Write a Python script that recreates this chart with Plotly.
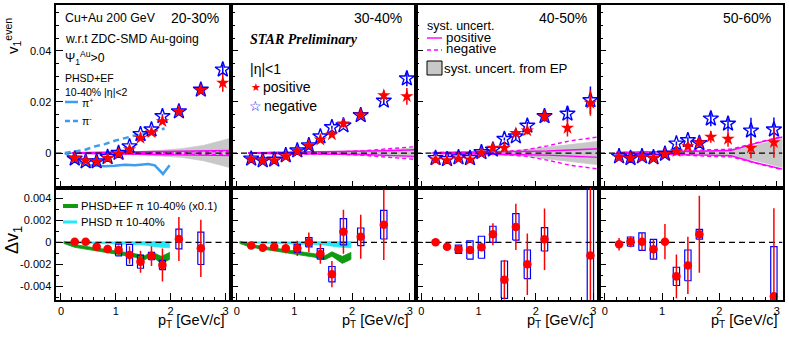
import plotly.graph_objects as go

pt = [0.25, 0.45, 0.65, 0.85, 1.05, 1.25, 1.45, 1.65, 1.85, 2.15, 2.55, 2.95]
centralities = ['20-30%', '30-40%', '40-50%', '50-60%']

# v1 even, positive (red) / negative (blue) particles, with stat. errors
v1_pos_2030 = [-0.002, -0.003, -0.0033, -0.002, -0.0003, 0.0014, 0.0059, 0.0081, 0.0124, 0.0163, 0.0246, 0.0275]
v1_neg_2030 = [-0.0022, -0.0033, -0.0033, -0.0016, 0.0, 0.0026, 0.0074, 0.0092, 0.0144, 0.0163, 0.0248, 0.0327]
err_pos_2030 = [0.0003, 0.0003, 0.0003, 0.0003, 0.0003, 0.0004, 0.0005, 0.0006, 0.0008, 0.001, 0.0015, 0.0035]
err_neg_2030 = [0.0003, 0.0003, 0.0003, 0.0003, 0.0003, 0.0004, 0.0005, 0.0006, 0.0008, 0.001, 0.0015, 0.002]

v1_pos_3040 = [-0.0024, -0.003, -0.0029, -0.0013, 0.0007, 0.003, 0.0052, 0.0072, 0.0115, 0.015, 0.0226, 0.0222]
v1_neg_3040 = [-0.0022, -0.0029, -0.0026, -0.0009, 0.001, 0.003, 0.0065, 0.0101, 0.0108, 0.0148, 0.0205, 0.0292]
err_pos_3040 = [0.0003, 0.0003, 0.0003, 0.0003, 0.0003, 0.0004, 0.0005, 0.0006, 0.0008, 0.001, 0.002, 0.0033]
err_neg_3040 = [0.0003, 0.0003, 0.0003, 0.0003, 0.0003, 0.0004, 0.0005, 0.0006, 0.0008, 0.001, 0.0015, 0.003]

v1_pos_4050 = [-0.0026, -0.0029, -0.0022, -0.0026, 0.0, 0.002, 0.002, 0.0078, 0.0088, 0.0144, 0.0098, 0.0196]
v1_neg_4050 = [-0.002, -0.0024, -0.0017, -0.002, 0.0003, 0.0013, 0.0055, 0.0065, 0.0107, 0.0144, 0.0154, 0.0207]
err_pos_4050 = [0.0003, 0.0003, 0.0003, 0.0003, 0.0004, 0.0005, 0.0006, 0.001, 0.0015, 0.002, 0.0033, 0.005]
err_neg_4050 = [0.0003, 0.0003, 0.0003, 0.0003, 0.0004, 0.0005, 0.0006, 0.001, 0.0015, 0.002, 0.003, 0.0054]

v1_pos_5060 = [-0.0016, -0.002, -0.0016, -0.002, -0.0004, 0.0007, 0.0026, 0.0042, 0.0063, 0.0055, 0.002, 0.0042]
v1_neg_5060 = [-0.0013, -0.002, -0.0013, -0.0017, -0.0003, 0.0037, 0.005, 0.0039, 0.0135, 0.0115, 0.0088, 0.0092]
err_pos_5060 = [0.0003, 0.0003, 0.0003, 0.0004, 0.0005, 0.0008, 0.0012, 0.002, 0.0023, 0.003, 0.004, 0.006]
err_neg_5060 = [0.0003, 0.0003, 0.0003, 0.0004, 0.0005, 0.0008, 0.0012, 0.0015, 0.003, 0.003, 0.005, 0.0047]

# systematic envelopes around zero (half widths)
env_pt = [0.2, 0.6, 1.0, 1.4, 1.8, 2.2, 2.6, 3.1]
ep_2030 = [0.0002, 0.0003, 0.0004, 0.0006, 0.001, 0.0017, 0.003, 0.0058]
ep_3040 = [0.0002, 0.0002, 0.0003, 0.0004, 0.0006, 0.0009, 0.0013, 0.002]
ep_4050 = [0.0003, 0.0004, 0.0005, 0.0008, 0.0013, 0.0022, 0.0033, 0.0046]
ep_5060 = [0.0003, 0.0004, 0.0005, 0.0007, 0.001, 0.0015, 0.0028, 0.0057]
sys_pos_2030 = [0.0001, 0.0002, 0.0003, 0.0004, 0.0005, 0.0006, 0.0008, 0.001]
sys_neg_2030 = [0.0001, 0.0001, 0.0002, 0.0003, 0.0003, 0.0004, 0.0005, 0.0006]
sys_pos_3040 = [0.0001, 0.0002, 0.0002, 0.0003, 0.0004, 0.0006, 0.0009, 0.0013]
sys_neg_3040 = [0.0001, 0.0002, 0.0003, 0.0004, 0.0005, 0.0009, 0.0015, 0.0025]
sys_pos_4050 = [0.0001, 0.0002, 0.0003, 0.0004, 0.0006, 0.0008, 0.0012, 0.0017]
sys_neg_4050 = [0.0002, 0.0002, 0.0003, 0.0005, 0.0012, 0.0028, 0.0048, 0.0063]
sys_pos_5060 = [0.0002, 0.0003, 0.0004, 0.0006, 0.0008, 0.001, 0.0036, 0.0063]
sys_neg_5060 = [0.0002, 0.0003, 0.0005, 0.0008, 0.0013, 0.0015, 0.0038, 0.0066]

# PHSD+EF pions, 10-40 %, |eta|<2
pip_pt = [0.07, 0.25, 0.44, 0.62, 0.8, 0.98, 1.16, 1.35, 1.47, 1.59, 1.71, 1.86, 1.98]
pip_v1 = [0.0, -0.0026, -0.0046, -0.005, -0.0052, -0.005, -0.0046, -0.0048, -0.0046, -0.0043, -0.0048, -0.0082, -0.0048]
pim_pt = [0.07, 0.25, 0.44, 0.62, 0.8, 0.98, 1.16, 1.35, 1.53, 1.71, 1.89]
pim_v1 = [0.0, 0.0007, 0.0013, 0.0026, 0.0035, 0.0048, 0.0059, 0.0069, 0.0078, 0.0088, 0.0096]

# delta v1 (positive - negative)
dpt_2030 = [0.25, 0.45, 0.65, 0.85, 1.05, 1.25, 1.45, 1.65, 1.85, 2.15, 2.55]
dv1_2030 = [0.00005, 0.00005, -0.0004, -0.0006, -0.0007, -0.00115, -0.00176, -0.00125, -0.00206, 0.0003, -0.00055]
dstat_2030 = [0.0001, 0.0001, 0.00015, 0.00015, 0.0004, 0.0008, 0.001, 0.0009, 0.0015, 0.002, 0.0026]
dsys_2030 = [0.0001, 0.0001, 0.0001, 0.0001, 0.00053, 0.00095, 0.0006, 0.00033, 0.00042, 0.0009, 0.00147]

dpt_3040 = [0.25, 0.45, 0.65, 0.85, 1.05, 1.25, 1.45, 1.65, 1.85, 2.15, 2.55]
dv1_3040 = [-0.0003, -0.0005, -0.0004, -0.00055, -0.00055, 0.0, -0.00106, -0.0029, 0.00096, 0.0005, 0.0016]
dstat_3040 = [0.0001, 0.0001, 0.0002, 0.00045, 0.0007, 0.0009, 0.0009, 0.0012, 0.002, 0.002, 0.0032]
dsys_3040 = [0.0001, 0.0001, 0.0001, 0.0001, 0.00036, 0.00042, 0.00048, 0.0007, 0.0012, 0.0008, 0.0013]

dpt_4050 = [0.25, 0.45, 0.65, 0.85, 1.05, 1.25, 1.45, 1.65, 1.85, 2.15, 2.95]
dv1_4050 = [0.0, -0.0004, -0.00064, -0.0007, -0.00045, 0.00073, -0.0034, 0.0014, -0.002, 0.00027, -0.0012]
dstat_4050 = [0.0001, 0.0002, 0.0003, 0.0003, 0.0003, 0.001, 0.0018, 0.0021, 0.0028, 0.0028, 0.008]
dsys_4050 = [0.0001, 0.0001, 0.00038, 0.00083, 0.001, 0.00073, 0.0017, 0.0012, 0.0013, 0.00106, 0.007]

dpt_5060 = [0.25, 0.45, 0.65, 0.85, 1.05, 1.25, 1.45, 1.65, 2.95]
dv1_5060 = [-0.00018, 0.00006, 0.00006, -0.00064, 0.00006, -0.0031, -0.0021, 0.00073, -0.0049]
dstat_5060 = [0.00056, 0.0005, 0.0008, 0.0009, 0.0016, 0.002, 0.0026, 0.0035, 0.008]
dsys_5060 = [0.0001, 0.00042, 0.0008, 0.0009, 0.0001, 0.00083, 0.0014, 0.00045, 0.0045]

# PHSD models for delta v1, pions 10-40 %
model_pt = [0.05, 0.25, 0.5, 0.8, 1.1, 1.35, 1.53, 1.65, 1.83, 1.98]
ef_dv1 = [0.0, -0.00033, -0.00055, -0.00076, -0.001, -0.0012, -0.0014, -0.00106, -0.0016, -0.00124]
ef_hw = [0.0001, 0.00013, 0.00014, 0.00014, 0.00015, 0.00016, 0.00018, 0.0002, 0.00032, 0.00032]
phsd_dv1 = [0.0, 0.0, -0.00003, -0.00005, -0.00005, -0.00008, -0.0001, -0.00015, -0.0002, -0.0002]
phsd_hw = [0.00003, 0.00005, 0.00006, 0.00008, 0.0001, 0.00012, 0.00015, 0.0002, 0.00026, 0.00028]

pt_ticks = [0, 1, 2, 3]
v1_ticks = [0, 0.02, 0.04]
v1_ticktext = ['0', '0.02', '0.04']
dv1_ticks = [-0.004, -0.002, 0, 0.002, 0.004]
dv1_ticktext = ['-0.004', '-0.002', '0', '0.002', '0.004']

v1_pos = [v1_pos_2030, v1_pos_3040, v1_pos_4050, v1_pos_5060]
v1_neg = [v1_neg_2030, v1_neg_3040, v1_neg_4050, v1_neg_5060]
err_pos = [err_pos_2030, err_pos_3040, err_pos_4050, err_pos_5060]
err_neg = [err_neg_2030, err_neg_3040, err_neg_4050, err_neg_5060]
ep_band = [ep_2030, ep_3040, ep_4050, ep_5060]
sys_pos = [sys_pos_2030, sys_pos_3040, sys_pos_4050, sys_pos_5060]
sys_neg = [sys_neg_2030, sys_neg_3040, sys_neg_4050, sys_neg_5060]
dpt = [dpt_2030, dpt_3040, dpt_4050, dpt_5060]
dv1 = [dv1_2030, dv1_3040, dv1_4050, dv1_5060]
dstat = [dstat_2030, dstat_3040, dstat_4050, dstat_5060]
dsys = [dsys_2030, dsys_3040, dsys_4050, dsys_5060]

# ---- layout constants ----
W, H = 789, 344
FONT = 'Liberation Sans, Arial, sans-serif'
X_RANGE = [-0.1, 3.1]
V1_RANGE = [-0.0137, 0.058]
DV1_RANGE = [-0.00525, 0.00494]
X_EDGES = [55.5, 231, 415.5, 599, 782.5]
TOP_PX = (5, 188)
BOT_PX = (188, 300)
BOX_HW = 0.055

RED, BLUE, MAGENTA = '#ff0000', '#0000ff', '#ff00ff'
GREEN, CYAN, GRAY, PIBLUE = '#119911', '#22e8f8', '#c8c8c8', '#3d9df0'


def px(x):
    return x / W


def py(y):
    return 1 - y / H


def ax(n):
    s = '' if n == 1 else str(n)
    return dict(xaxis='x' + s, yaxis='y' + s)


def neg(a):
    return [-v for v in a]


def band(x, lo, hi, color, n):
    return go.Scatter(x=x + x[::-1], y=hi + lo[::-1], fill='toself', fillcolor=color,
                      mode='lines', line=dict(width=0.8, color=color), hoverinfo='skip', **ax(n))


def zero_line(n):
    return go.Scatter(x=X_RANGE, y=[0, 0], mode='lines',
                      line=dict(color='black', width=1.3, dash='6px,4px'), hoverinfo='skip', **ax(n))


fig = go.Figure()

frame = dict(showline=True, linecolor='black', linewidth=2, mirror=True, ticks='inside',
             tickcolor='black', tickwidth=1, showgrid=False, zeroline=False,
             tickfont=dict(family=FONT, size=11, color='black'))

layout = {}
for i in range(4):
    for row, (ytop, ybot) in enumerate([TOP_PX, BOT_PX]):
        n = i + 1 + 4 * row
        s = '' if n == 1 else str(n)
        layout['xaxis' + s] = dict(
            domain=[px(X_EDGES[i]), px(X_EDGES[i + 1])], range=X_RANGE, anchor='y' + s,
            tickmode='array', tickvals=pt_ticks, ticktext=[str(t) for t in pt_ticks],
            ticklen=7, showticklabels=(row == 1),
            minor=dict(ticks='inside', ticklen=3.5, tickcolor='black', tickwidth=1, dtick=0.2, tick0=0),
            **frame)
        if row == 0:
            yt = dict(range=V1_RANGE, tickvals=v1_ticks, ticktext=v1_ticktext,
                      minor=dict(ticks='inside', ticklen=3.5, tickcolor='black', tickwidth=1, dtick=0.005, tick0=0))
        else:
            yt = dict(range=DV1_RANGE, tickvals=dv1_ticks, ticktext=dv1_ticktext,
                      minor=dict(ticks='inside', ticklen=3.5, tickcolor='black', tickwidth=1, dtick=0.001, tick0=0))
        layout['yaxis' + s] = dict(domain=[py(ybot), py(ytop)], anchor='x' + s, tickmode='array',
                                   ticklen=7, showticklabels=(i == 0), **yt, **frame)

# ---- top row: v1 even ----
for i in range(4):
    n = i + 1
    hw = ep_band[i]
    fig.add_trace(band(env_pt, neg(hw), hw, GRAY, n))
    for sys, dash in [(sys_pos[i], 'solid'), (sys_neg[i], '4px,3px')]:
        fig.add_trace(go.Scatter(x=env_pt + [None] + env_pt, y=sys + [None] + neg(sys), mode='lines',
                                 line=dict(color=MAGENTA, width=1.4, dash=dash), hoverinfo='skip', **ax(n)))
    fig.add_trace(zero_line(n))
    if i == 0:
        fig.add_trace(go.Scatter(x=pip_pt, y=pip_v1, mode='lines', line=dict(color=PIBLUE, width=2.5), **ax(n)))
        fig.add_trace(go.Scatter(x=pim_pt, y=pim_v1, mode='lines',
                                 line=dict(color=PIBLUE, width=2.5, dash='6px,4px'), **ax(n)))
    fig.add_trace(go.Scatter(
        x=pt, y=v1_neg[i], mode='markers',
        marker=dict(symbol='star-open', size=11.5, color=BLUE, line=dict(width=1.4, color=BLUE)),
        error_y=dict(type='data', array=err_neg[i], color=BLUE, thickness=1.5, width=0), **ax(n)))
    fig.add_trace(go.Scatter(
        x=pt, y=v1_pos[i], mode='markers',
        marker=dict(symbol='star', size=10, color=RED, line=dict(width=0)),
        error_y=dict(type='data', array=err_pos[i], color=RED, thickness=1.5, width=0), **ax(n)))

# ---- bottom row: delta v1 ----
for i in range(4):
    n = i + 5
    if i < 2:
        fig.add_trace(band(model_pt, [c - h for c, h in zip(phsd_dv1, phsd_hw)],
                           [c + h for c, h in zip(phsd_dv1, phsd_hw)], CYAN, n))
        fig.add_trace(band(model_pt, [c - h for c, h in zip(ef_dv1, ef_hw)],
                           [c + h for c, h in zip(ef_dv1, ef_hw)], GREEN, n))
    fig.add_trace(zero_line(n))
    bx, by = [], []
    for x, y, s in zip(dpt[i], dv1[i], dsys[i]):
        bx += [x - BOX_HW, x + BOX_HW, x + BOX_HW, x - BOX_HW, x - BOX_HW, None]
        by += [y - s, y - s, y + s, y + s, y - s, None]
    fig.add_trace(go.Scatter(x=bx, y=by, mode='lines', line=dict(color=BLUE, width=1.2), hoverinfo='skip', **ax(n)))
    fig.add_trace(go.Scatter(
        x=dpt[i], y=dv1[i], mode='markers', marker=dict(symbol='circle', size=8.5, color=RED),
        error_y=dict(type='data', array=dstat[i], color=RED, thickness=1.5, width=0), **ax(n)))


def ann(text, x, y, size, xanchor='left', color='black', family=FONT, **kw):
    return dict(text=text, x=px(x), y=py(y), xref='paper', yref='paper', showarrow=False,
                xanchor=xanchor, yanchor='middle', font=dict(family=family, size=size, color=color), **kw)


annotations = [
    ann('Cu+Au 200 GeV', 63, 18, 12.3),
    ann('w.r.t ZDC-SMD Au-going', 63, 39, 12.2),
    ann('Ψ<sub>1</sub><sup>Au</sup>&gt;0', 63, 58, 12.3),
    ann('PHSD+EF', 63, 78, 10.5),
    ann('10-40% |η|&lt;2', 63, 92, 10.5),
    ann('π<sup>+</sup>', 80, 102, 10.5),
    ann('π<sup>-</sup>', 80, 121, 10.5),
    ann('v<sub>1</sub><sup>even</sup>', 13, 36, 15, xanchor='center', textangle=-90),
    ann('Δv<sub>1</sub>', 13, 240, 18, xanchor='center', textangle=-90),
    ann('<b><i>STAR Preliminary</i></b>', 248, 40, 14, family='Liberation Serif, Times New Roman, serif'),
    ann('|η|&lt;1', 248, 69, 14),
    ann('★', 256, 87, 11, xanchor='center', color=RED, family='DejaVu Sans'),
    ann('positive', 261, 87, 14),
    ann('☆', 255, 106, 14, xanchor='center', color=BLUE, family='DejaVu Sans'),
    ann('negative', 262, 106, 14),
    ann('syst. uncert.', 425, 26, 12.5),
    ann('positive', 444, 37.5, 13.3),
    ann('negative', 444, 48.5, 13.3),
    ann('syst. uncert. from EP', 442, 68, 13.3),
    ann('PHSD+EF π 10-40% (x0.1)', 79, 206, 11.2),
    ann('PHSD π 10-40%', 79, 222, 11.2),
]
for cent, xr in zip(centralities, [221, 404, 589, 773]):
    annotations.append(ann(cent, xr, 18, 14, xanchor='right'))
for xr in [227, 411, 596, 780]:
    annotations.append(ann('p<sub>T</sub> [GeV/c]', xr, 321, 14.5, xanchor='right'))


def seg(x0, x1, y, color, width, dash='solid'):
    return dict(type='line', xref='paper', yref='paper', x0=px(x0), x1=px(x1), y0=py(y), y1=py(y),
                line=dict(color=color, width=width, dash=dash))


shapes = [
    seg(65, 78, 102, PIBLUE, 2.5),
    seg(65, 78, 121, PIBLUE, 2.5, '5px,3px'),
    seg(427, 442, 38, MAGENTA, 1.4),
    seg(427, 442, 50, MAGENTA, 1.4, '4px,3px'),
    dict(type='rect', xref='paper', yref='paper', x0=px(427), x1=px(442), y0=py(75), y1=py(61),
         fillcolor=GRAY, line=dict(color='black', width=1)),
    seg(63, 78, 206, GREEN, 4),
    seg(63, 77, 222, CYAN, 3),
]

fig.update_layout(width=W, height=H, margin=dict(l=0, r=0, t=0, b=0), showlegend=False,
                  plot_bgcolor='white', paper_bgcolor='white', font=dict(family=FONT, color='black'),
                  annotations=annotations, shapes=shapes, **layout)

# the page body keeps its default 8px margin otherwise, which pushes the figure off the window
fig.write_html('out.html', config={'displayModeBar': False},
               post_script="document.body.style.margin = '0px';")
